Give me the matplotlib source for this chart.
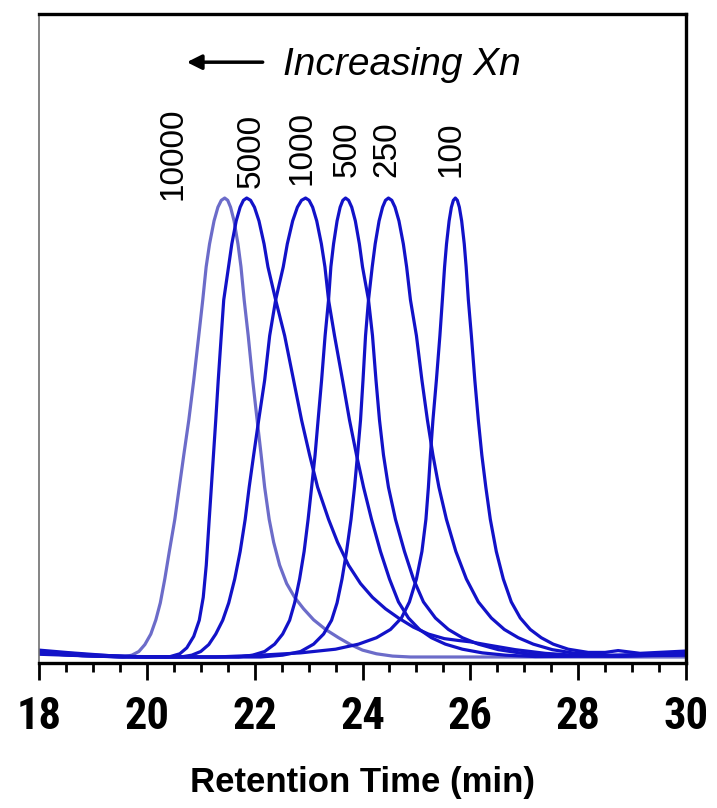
import matplotlib
matplotlib.use("Agg")
import matplotlib.pyplot as plt
from matplotlib import font_manager

# GPC traces, normalised detector signal vs retention time (min)
rt_10000 = [18.00, 18.60, 19.20, 19.556, 19.722, 19.852, 19.963, 20.074, 20.167, 20.250, 20.333,
            20.417, 20.519, 20.602, 20.685, 20.778, 20.870, 20.963, 21.037, 21.100, 21.163, 21.246,
            21.318, 21.381, 21.444, 21.500, 21.553, 21.618, 21.690, 21.746, 21.805, 21.880, 21.963,
            22.046, 22.120, 22.185, 22.269, 22.352, 22.463, 22.593, 22.741, 22.907, 23.093, 23.315,
            23.556, 23.778, 24.000, 24.259, 24.556, 24.889, 30.00]
sig_10000 = [0.012, 0.008, 0.002, 0.000, 0.004, 0.012, 0.027, 0.050, 0.081, 0.118, 0.170,
             0.230, 0.300, 0.370, 0.440, 0.516, 0.603, 0.700, 0.778, 0.850, 0.900, 0.950,
             0.980, 0.995, 1.000, 0.995, 0.980, 0.950, 0.900, 0.850, 0.778, 0.700, 0.603,
             0.516, 0.440, 0.370, 0.300, 0.250, 0.200, 0.160, 0.130, 0.105, 0.081, 0.060,
             0.042, 0.027, 0.015, 0.007, 0.002, 0.000, 0.000]

rt_5000 = [18.00, 18.60, 19.30, 20.00, 20.407, 20.611, 20.741, 20.870, 20.972, 21.046, 21.102,
           21.157, 21.213, 21.278, 21.324, 21.380, 21.426, 21.515, 21.576, 21.657, 21.730, 21.791,
           21.852, 21.924, 21.996, 22.080, 22.174, 22.246, 22.389, 22.556, 22.722, 22.870, 23.019,
           23.167, 23.370, 23.537, 23.741, 23.963, 24.185, 24.426, 24.667, 24.944, 25.222, 25.519,
           25.778, 26.000, 26.333, 26.833, 27.389, 28.037, 28.778, 30.00]
sig_5000 = [0.015, 0.009, 0.003, 0.000, 0.000, 0.007, 0.020, 0.045, 0.080, 0.130, 0.200,
            0.300, 0.400, 0.516, 0.603, 0.700, 0.778, 0.850, 0.900, 0.950, 0.980, 0.995,
            1.000, 0.995, 0.980, 0.950, 0.900, 0.850, 0.778, 0.700, 0.603, 0.516, 0.440,
            0.370, 0.300, 0.250, 0.200, 0.160, 0.130, 0.105, 0.085, 0.065, 0.050, 0.040,
            0.036, 0.033, 0.026, 0.016, 0.008, 0.003, 0.002, 0.006]

rt_1000 = [18.00, 18.80, 19.50, 20.630, 20.833, 21.000, 21.148, 21.278, 21.407, 21.519, 21.630,
           21.731, 21.824, 21.898, 21.981, 22.074, 22.185, 22.278, 22.389, 22.530, 22.605, 22.704,
           22.792, 22.868, 22.944, 23.009, 23.075, 23.151, 23.237, 23.303, 23.370, 23.481, 23.630,
           23.759, 23.889, 24.019, 24.167, 24.333, 24.500, 24.667, 24.852, 25.056, 25.278, 25.537,
           25.852, 26.222, 26.648, 27.204, 28.407, 30.00]
sig_1000 = [0.008, 0.003, 0.000, 0.000, 0.004, 0.012, 0.027, 0.050, 0.080, 0.118, 0.170,
            0.230, 0.300, 0.370, 0.440, 0.516, 0.603, 0.700, 0.778, 0.850, 0.900, 0.950,
            0.980, 0.995, 1.000, 0.995, 0.980, 0.950, 0.900, 0.850, 0.778, 0.700, 0.603,
            0.516, 0.440, 0.370, 0.300, 0.230, 0.170, 0.120, 0.085, 0.060, 0.042, 0.028,
            0.017, 0.009, 0.004, 0.001, 0.002, 0.004]

rt_500 = [18.00, 19.00, 20.00, 21.704, 21.963, 22.185, 22.370, 22.519, 22.648, 22.741, 22.833,
          22.917, 22.991, 23.056, 23.120, 23.176, 23.241, 23.306, 23.370, 23.413, 23.463, 23.528,
          23.585, 23.635, 23.685, 23.742, 23.800, 23.867, 23.942, 24.000, 24.111, 24.185, 24.250,
          24.315, 24.389, 24.481, 24.611, 24.778, 24.944, 25.130, 25.352, 25.593, 25.852, 26.148,
          26.519, 26.963, 27.574, 28.778, 30.00]
sig_500 = [0.006, 0.002, 0.000, 0.000, 0.004, 0.012, 0.028, 0.050, 0.080, 0.118, 0.170,
           0.230, 0.300, 0.370, 0.440, 0.516, 0.603, 0.700, 0.778, 0.850, 0.900, 0.950,
           0.980, 0.995, 1.000, 0.995, 0.980, 0.950, 0.900, 0.850, 0.778, 0.700, 0.603,
           0.516, 0.440, 0.370, 0.300, 0.230, 0.170, 0.120, 0.085, 0.060, 0.042, 0.028,
           0.016, 0.008, 0.003, 0.002, 0.005]

rt_250 = [18.00, 18.80, 19.80, 21.00, 22.111, 22.519, 22.852, 23.093, 23.278, 23.426, 23.528,
          23.620, 23.704, 23.787, 23.852, 23.907, 23.963, 24.009, 24.056, 24.111, 24.180, 24.235,
          24.307, 24.372, 24.426, 24.481, 24.543, 24.603, 24.676, 24.757, 24.818, 24.889, 25.000,
          25.102, 25.204, 25.306, 25.417, 25.556, 25.731, 25.926, 26.148, 26.389, 26.630, 26.889,
          27.167, 27.519, 27.944, 28.593, 29.333, 30.00]
sig_250 = [0.010, 0.005, 0.001, 0.000, 0.000, 0.004, 0.012, 0.028, 0.050, 0.080, 0.118,
           0.170, 0.230, 0.300, 0.370, 0.440, 0.516, 0.603, 0.700, 0.778, 0.850, 0.900,
           0.950, 0.980, 0.995, 1.000, 0.995, 0.980, 0.950, 0.900, 0.850, 0.778, 0.700,
           0.603, 0.516, 0.440, 0.370, 0.300, 0.230, 0.170, 0.120, 0.085, 0.060, 0.042,
           0.028, 0.016, 0.008, 0.004, 0.006, 0.008]

rt_100 = [18.00, 18.80, 19.60, 21.278, 22.111, 22.852, 23.500, 23.926, 24.259, 24.519, 24.722,
          24.870, 25.000, 25.102, 25.176, 25.222, 25.259, 25.306, 25.370, 25.435, 25.481, 25.522,
          25.558, 25.606, 25.648, 25.685, 25.722, 25.759, 25.796, 25.839, 25.887, 25.922, 25.963,
          26.019, 26.083, 26.148, 26.213, 26.287, 26.370, 26.481, 26.611, 26.759, 26.926, 27.111,
          27.315, 27.537, 27.815, 28.185, 28.500, 28.741, 29.148, 30.00]
sig_100 = [0.008, 0.003, 0.000, 0.000, 0.004, 0.009, 0.017, 0.028, 0.042, 0.060, 0.085,
           0.120, 0.170, 0.230, 0.300, 0.370, 0.440, 0.516, 0.603, 0.700, 0.778, 0.850,
           0.900, 0.950, 0.980, 0.995, 1.000, 0.995, 0.980, 0.950, 0.900, 0.850, 0.778,
           0.700, 0.603, 0.516, 0.440, 0.370, 0.300, 0.230, 0.170, 0.120, 0.085, 0.060,
           0.042, 0.028, 0.017, 0.010, 0.010, 0.014, 0.008, 0.013]

xn_labels = ["10000", "5000", "1000", "500", "250", "100"]
traces = [(rt_10000, sig_10000), (rt_5000, sig_5000), (rt_1000, sig_1000),
          (rt_500, sig_500), (rt_250, sig_250), (rt_100, sig_100)]

# where the Xn labels sit (x centre, bottom of the rotated text)
label_x = [20.48, 21.94, 22.87, 23.72, 24.46, 25.65]
label_y = [0.996, 1.022, 1.028, 1.046, 1.046, 1.046]


def find_family(name, **kw):
    try:
        font_manager.findfont(font_manager.FontProperties(family=name, **kw),
                              fallback_to_default=False)
        return True
    except ValueError:
        return False


# narrow bold face for the tick numbers, if one is around
tick_family, tick_stretch = "Liberation Sans", "normal"
for fam in ["Liberation Sans Narrow", "Arial Narrow", "Roboto Condensed", "Open Sans Condensed"]:
    if find_family(fam, weight="bold"):
        tick_family = fam
        break
else:
    path = font_manager.findfont(font_manager.FontProperties(
        family="DejaVu Sans", stretch="condensed", weight="bold"))
    if "Condensed" in path:
        tick_family, tick_stretch = "DejaVu Sans", "condensed"

text_font = "Liberation Sans" if find_family("Liberation Sans") else "DejaVu Sans"

fig = plt.figure(figsize=(7.17, 8.08), dpi=100)
ax = fig.add_axes([0.0544, 0.1795, 0.9024, 0.8032])

for i, (rt, sig) in enumerate(traces):
    if i == 0:
        ax.plot(rt, sig, color="#5c5cc4", lw=2.3, alpha=0.9)
    else:
        ax.plot(rt, sig, color="#1212c8", lw=2.3)

for lab, x, y in zip(xn_labels, label_x, label_y):
    ax.text(x, y, lab, rotation=90, ha="center", va="bottom", fontsize=24, family=text_font)

ax.annotate("", xy=(20.69, 1.296), xytext=(22.20, 1.296),
            arrowprops=dict(arrowstyle="-|>", lw=2.5, color="black", mutation_scale=22))
ax.text(22.52, 1.29, "Increasing Xn", style="italic", fontsize=28, family=text_font,
        ha="left", va="center")

ax.set_xlim(18, 30)
ax.set_ylim(-0.013, 1.401)
ax.set_xticks([18, 20, 22, 24, 26, 28, 30])
ax.set_xticks([x / 2 for x in range(36, 61)], minor=True)
ax.set_yticks([])
ax.tick_params(axis="x", which="major", direction="out", length=12, width=2, pad=12)
ax.tick_params(axis="x", which="minor", direction="out", length=6.5, width=2)
for lbl in ax.get_xticklabels():
    lbl.set_fontfamily(tick_family)
    lbl.set_fontstretch(tick_stretch)
    lbl.set_fontweight("bold")
    lbl.set_fontsize(32)

ax.set_xlabel("Retention Time (min)", fontsize=25, fontweight="bold", family=text_font,
              labelpad=20)

ax.spines["left"].set_linewidth(1.2)
ax.spines["left"].set_color("#707070")
for side in ["bottom", "right", "top"]:
    ax.spines[side].set_linewidth(2.4)
    ax.spines[side].set_color("black")

fig.savefig("out.png", dpi=100)
